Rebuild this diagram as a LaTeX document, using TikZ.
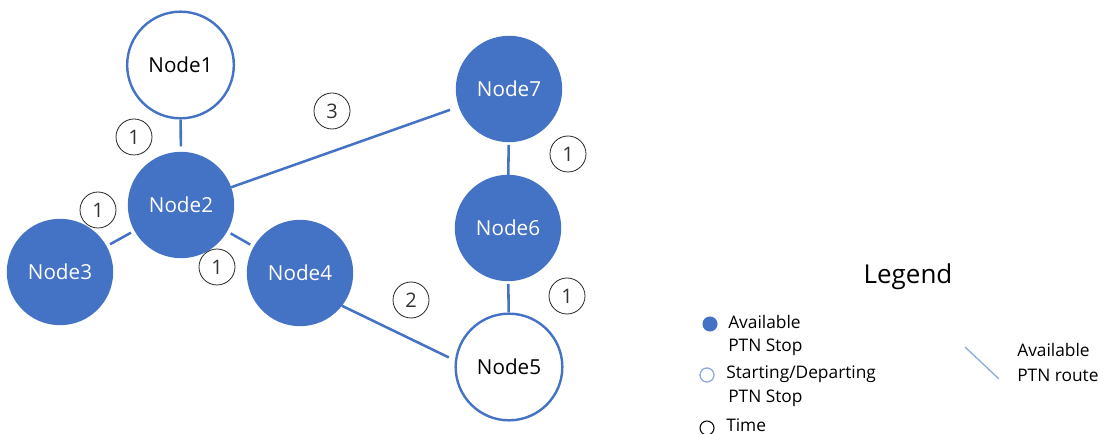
\documentclass[tikz,border=0pt]{standalone}
\usepackage{fontspec}
\setmainfont{Open Sans}
\definecolor{ptnblue}{HTML}{4472C4}
\definecolor{routeblue}{HTML}{8FAADC}
\begin{document}
\begin{tikzpicture}[x=0.75pt,y=-0.75pt,
  stopfull/.style={circle,draw=ptnblue,fill=ptnblue,line width=1.8pt,inner sep=0pt,
    minimum size=78pt,text=white,font=\fontsize{15.5pt}{18pt}\selectfont},
  stopopen/.style={circle,draw=ptnblue,fill=white,line width=1.8pt,inner sep=0pt,
    minimum size=80pt,text=black,font=\fontsize{15.5pt}{18pt}\selectfont},
  timebox/.style={circle,draw=black!85,line width=0.6pt,inner sep=0pt,minimum size=27pt,
    text=black!80,font=\fontsize{15pt}{18pt}\selectfont},
  route/.style={draw=ptnblue,line width=1.9pt},
  legtext/.style={anchor=west,font=\fontsize{13pt}{15pt}\selectfont,inner sep=0pt}]
\useasboundingbox (0,0) rectangle (1106,434);

% stops
\node[stopopen] (n1) at (180.5,65) {Node1};
\node[stopfull] (n2) at (181,205) {Node2};
\node[stopfull] (n3) at (60,272) {Node3};
\node[stopfull] (n4) at (300,273) {Node4};
\node[stopfull] (n7) at (509,89) {Node7};
\node[stopfull] (n6) at (508,228) {Node6};
\node[stopopen] (n5) at (509,367) {Node5};

% routes
\draw[route,shorten >=4pt] (n1) -- (n2);
\draw[route,shorten >=7pt] (n2) -- (n7);
\draw[route,shorten <=3pt,shorten >=3pt] (n2) -- (n3);
\draw[route,shorten <=3pt,shorten >=3pt] (n2) -- (n4);
\draw[route,shorten <=2pt] (n7) -- (n6);
\draw[route,shorten <=2pt] (n6) -- (n5);
\draw[route,shorten >=5pt] (n4.-38) -- (n5.173);

% travel times
\node[timebox] (t12) at (134,137) {1};
\node[timebox] (t23) at (98,210) {1};
\node[timebox] (t24) at (217,267) {1};
\node[timebox] (t27) at (332,111) {3};
\node[timebox] (t76) at (568,154) {1};
\node[timebox] (t65) at (567,296) {1};
\node[timebox] (t45) at (411,300) {2};

% legend
\node[font=\fontsize{19.5pt}{22pt}\selectfont] (lt) at (908,277) {Legend};
\node[circle,fill=ptnblue,draw=ptnblue,line width=0.8pt,inner sep=0pt,minimum size=10.5pt] (lf) at (710,324) {};
\node[legtext] (lfa) at (728,322) {Available};
\node[legtext] (lfb) at (728,347) {PTN Stop};
\node[circle,draw=routeblue,line width=1pt,inner sep=0pt,minimum size=10.5pt] (lo) at (707,375) {};
\node[legtext] (loa) at (726,374) {Starting/Departing};
\node[legtext] (lob) at (728,398) {PTN Stop};
\node[circle,draw=black,line width=0.8pt,inner sep=0pt,minimum size=10.5pt] (lc) at (707,428) {};
\node[legtext] (lca) at (726,425) {Time};
\coordinate (ra) at (965,347);
\coordinate (rb) at (999,379);
\draw[routeblue,line width=1pt] (ra) -- (rb);
\node[legtext] (lra) at (1017,350) {Available};
\node[legtext] (lrb) at (1017,375) {PTN route};
\end{tikzpicture}
\end{document}
